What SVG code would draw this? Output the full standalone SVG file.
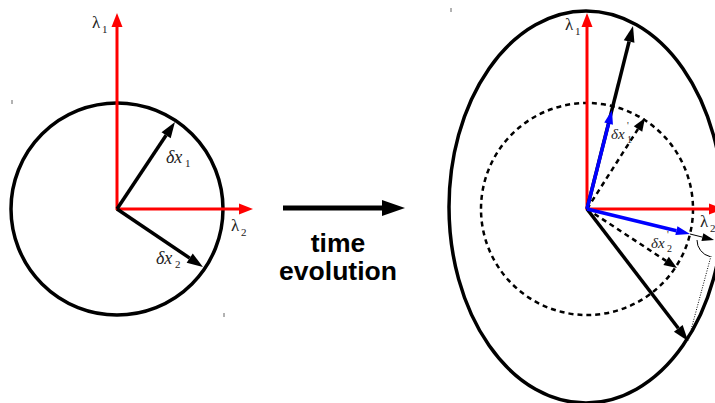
<svg xmlns="http://www.w3.org/2000/svg" width="715" height="403" viewBox="0 0 715 403">
  <style>
    .curve { fill: none; stroke: #000; stroke-width: 3.5; }
    .dcurve { fill: none; stroke: #000; stroke-width: 2.5; stroke-dasharray: 5 4; }
    .red { stroke: #ff0000; stroke-width: 3; fill: none; }
    .blk { stroke: #000; stroke-width: 3.5; fill: none; }
    .blue { stroke: #0000ff; stroke-width: 3.5; fill: none; }
    .dash { stroke: #000; stroke-width: 2.5; stroke-dasharray: 5 4; fill: none; }
    .thin { stroke: #000; stroke-width: 1; fill: none; }
    .dot { stroke: #000; stroke-width: 1; stroke-dasharray: 1 1.5; fill: none; }
    .tick { stroke: #666; stroke-width: 1; }
    .math { font-family: "Liberation Serif", "DejaVu Serif", serif; fill: #222; }
    .lam { font-size: 17px; }
    .sub { font-size: 11px; }
    .it { font-style: italic; font-size: 18px; }
    .its { font-style: italic; font-size: 15px; }
    .subs { font-size: 10px; }
    .big { font-family: "Liberation Sans", Arial, sans-serif; font-weight: bold; font-size: 26.5px; fill: #000; text-anchor: middle; }
  </style>
  <defs>
    <marker id="ahRed" markerUnits="userSpaceOnUse" markerWidth="16" markerHeight="12" refX="0" refY="6" orient="auto" overflow="visible">
      <path d="M0,0.5 L14,6 L0,11.5 Z" fill="#ff0000"/>
    </marker>
    <marker id="ahBlk" markerUnits="userSpaceOnUse" markerWidth="18" markerHeight="12" refX="0" refY="6" orient="auto" overflow="visible">
      <path d="M0,0.5 L16,6 L0,11.5 Z" fill="#000"/>
    </marker>
    <marker id="ahBlue" markerUnits="userSpaceOnUse" markerWidth="16" markerHeight="10" refX="0" refY="5" orient="auto" overflow="visible">
      <path d="M0,0.5 L14,5 L0,9.5 Z" fill="#0000ff"/>
    </marker>
    <marker id="ahDash" markerUnits="userSpaceOnUse" markerWidth="15" markerHeight="10" refX="0" refY="5" orient="auto" overflow="visible">
      <path d="M0,0 L13,5 L0,10 Z" fill="#000"/>
    </marker>
    <marker id="ahThin" markerUnits="userSpaceOnUse" markerWidth="14" markerHeight="8" refX="0" refY="4" orient="auto" overflow="visible">
      <path d="M0,0 L12,4 L0,8 Z" fill="#000"/>
    </marker>
    <marker id="ahBig" markerUnits="userSpaceOnUse" markerWidth="24" markerHeight="16" refX="0" refY="8" orient="auto" overflow="visible">
      <path d="M0,0 L23,8 L0,16 Z" fill="#000"/>
    </marker>
  </defs>

  <!-- tiny marks -->
  <g id="marks">
    <line class="tick" x1="12" y1="100" x2="12" y2="104"/>
    <line class="tick" x1="224" y1="313" x2="224" y2="317"/>
    <line class="tick" x1="451" y1="8" x2="451" y2="12"/>
  </g>

  <!-- left panel -->
  <g id="left-circle">
    <circle class="curve" cx="117" cy="209" r="106"/>
  </g>

  <!-- right panel shapes -->
  <g id="right-ellipse">
    <ellipse class="curve" cx="586" cy="207" rx="137" ry="196"/>
  </g>
  <g id="right-dashed-circle">
    <circle class="dcurve" cx="587" cy="209" r="106"/>
  </g>

  <g id="connectors">
    <!-- left -->
    <line class="red" x1="117" y1="210" x2="117" y2="27" marker-end="url(#ahRed)"/>
    <line class="red" x1="116" y1="209" x2="239" y2="209" marker-end="url(#ahRed)"/>
    <line class="blk" x1="117" y1="209" x2="166.1" y2="135.3" marker-end="url(#ahBlk)"/>
    <line class="blk" x1="117" y1="209" x2="189.7" y2="258.1" marker-end="url(#ahBlk)"/>
    <!-- time evolution -->
    <line stroke="#000" stroke-width="5" x1="283" y1="208" x2="382" y2="208" marker-end="url(#ahBig)"/>
    <!-- right -->
    <line class="red" x1="587" y1="210" x2="587" y2="27" marker-end="url(#ahRed)"/>
    <line class="red" x1="586" y1="209" x2="709" y2="209" marker-end="url(#ahRed)"/>
    <line class="blk" x1="587" y1="209" x2="629.1" y2="41.5" marker-end="url(#ahBlk)"/>
    <line class="blk" x1="587" y1="209" x2="678.3" y2="328.3" marker-end="url(#ahBlk)"/>
    <line class="dash" x1="587" y1="209" x2="638.0" y2="129.0" marker-end="url(#ahDash)"/>
    <line class="dash" x1="587" y1="209" x2="666.1" y2="260.9" marker-end="url(#ahDash)"/>
    <line class="blue" x1="587" y1="209" x2="608.6" y2="123.6" marker-end="url(#ahBlue)"/>
    <line class="blue" x1="587" y1="209" x2="676.4" y2="230.7" marker-end="url(#ahBlue)"/>
    <line class="thin" x1="690" y1="234" x2="702.4" y2="237.1" marker-end="url(#ahThin)"/>
    <path class="thin" d="M697,240 A17,17 0 0 0 710,256.6"/>
    <line class="dot" x1="711" y1="256" x2="688" y2="341"/>
  </g>

  <!-- labels -->
  <g id="label-left-l1">
    <text class="math lam" x="92" y="28">λ</text>
    <text class="math sub" x="102" y="33">1</text>
  </g>
  <g id="label-left-l2">
    <text class="math lam" x="231" y="231">λ</text>
    <text class="math sub" x="241" y="236">2</text>
  </g>
  <g id="label-left-dx1">
    <text class="math it" x="166" y="163">δx</text>
    <text class="math sub" x="185" y="167">1</text>
  </g>
  <g id="label-left-dx2">
    <text class="math it" x="156" y="264">δx</text>
    <text class="math sub" x="175" y="268">2</text>
  </g>
  <g id="label-time">
    <text class="big" x="338" y="252">time</text>
    <text class="big" x="338" y="280">evolution</text>
  </g>
  <g id="label-right-l1">
    <text class="math lam" x="565" y="30">λ</text>
    <text class="math sub" x="575" y="35">1</text>
  </g>
  <g id="label-right-l2">
    <text class="math lam" x="700" y="227">λ</text>
    <text class="math sub" x="710" y="232">2</text>
  </g>
  <g id="label-right-dx1">
    <text class="math its" x="611" y="139">δx</text>
    <text class="math subs" x="627" y="129" font-size="8">'</text>
    <text class="math subs" x="627" y="143">1</text>
  </g>
  <g id="label-right-dx2">
    <text class="math its" x="651" y="248">δx</text>
    <text class="math subs" x="667" y="238" font-size="8">'</text>
    <text class="math subs" x="667" y="252">2</text>
  </g>
</svg>
